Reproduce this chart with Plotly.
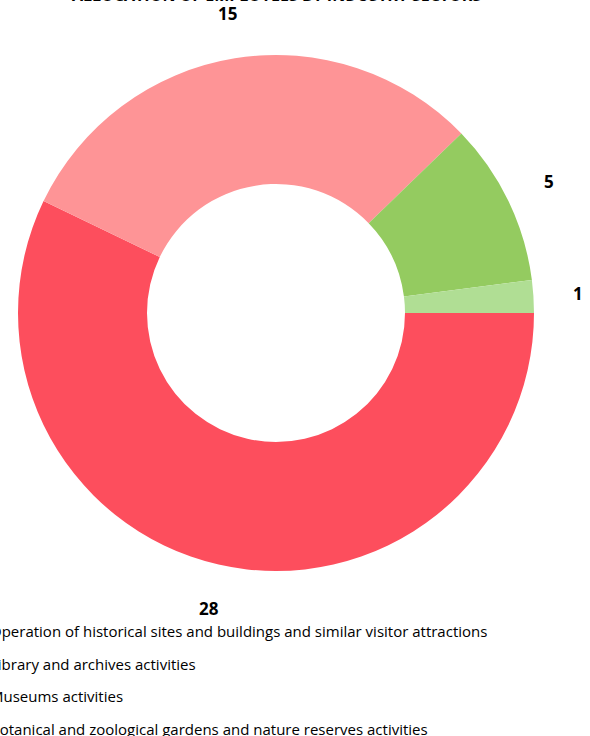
import math
import plotly.graph_objects as go

title_text = "ALLOCATION OF EMPLOYEES BY INDUSTRY SECTORS"
categories = [
    "Operation of historical sites and buildings and similar visitor attractions",
    "Library and archives activities",
    "Museums activities",
    "Botanical and zoological gardens and nature reserves activities",
]
values = [28, 15, 5, 1]
colors = ["#FD4E5D", "#FE9496", "#94CB60", "#B0DE94"]

W, H = 590, 736
FONT = "Open Sans"

# pie geometry (pixels)
cx_px, cy_px, r_px = 276, 313, 258
label_r_px = 303

fig = go.Figure()
fig.add_trace(go.Pie(
    labels=categories,
    values=values,
    marker=dict(colors=colors, line=dict(width=0)),
    hole=0.5,
    sort=False,
    direction="clockwise",
    rotation=90,
    textinfo="none",
    showlegend=False,
    domain=dict(x=[(cx_px - r_px) / W, (cx_px + r_px) / W],
                y=[1 - (cy_px + r_px) / H, 1 - (cy_px - r_px) / H]),
))

annotations = []
# title (cropped at the top edge, as in the reference)
annotations.append(dict(
    x=cx_px / W, y=1 + 5 / H, xref="paper", yref="paper",
    text="<b>%s</b>" % title_text, showarrow=False,
    xanchor="center", yanchor="middle",
    font=dict(family=FONT, size=16, color="#000000"),
))

# value labels placed radially outside each slice
total = sum(values)
cum = 0.0
for v in values:
    mid = (cum + v / 2) / total * 2 * math.pi  # clockwise from 3 o'clock
    cum += v
    x_px = cx_px + label_r_px * math.cos(mid)
    y_px = cy_px + label_r_px * math.sin(mid)
    annotations.append(dict(
        x=x_px / W, y=1 - y_px / H, xref="paper", yref="paper",
        text="<b>%d</b>" % v, showarrow=False,
        xanchor="center", yanchor="middle",
        font=dict(family=FONT, size=17, color="#000000"),
    ))

# legend lines (markers fall outside the visible area)
legend_y0, legend_dy, legend_x = 631, 32.5, -12
for i, c in enumerate(categories):
    annotations.append(dict(
        x=legend_x / W, y=1 - (legend_y0 + i * legend_dy) / H,
        xref="paper", yref="paper", text=c, showarrow=False,
        xanchor="left", yanchor="middle",
        font=dict(family=FONT, size=15, color="#000000"),
    ))

fig.update_layout(
    width=W, height=H, autosize=False,
    margin=dict(l=0, r=0, t=0, b=0),
    paper_bgcolor="white", plot_bgcolor="white",
    annotations=annotations,
)

fig.write_html("out.html", config={"displayModeBar": False},
               post_script="document.body.style.margin='0';")
